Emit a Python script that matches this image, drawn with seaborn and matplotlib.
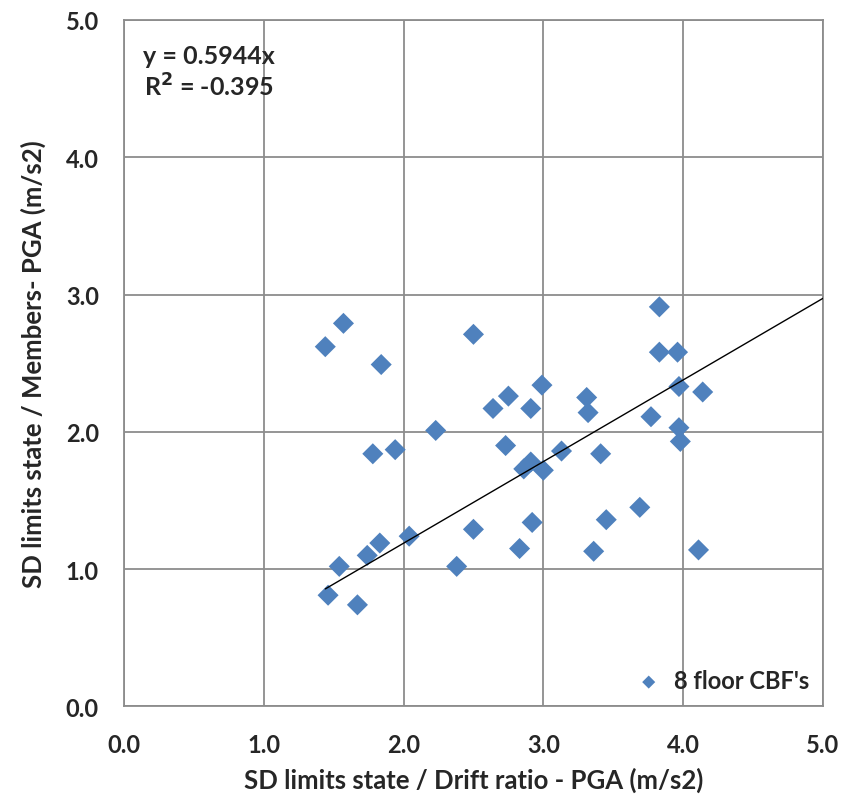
import matplotlib

matplotlib.use("Agg")
import matplotlib.pyplot as plt
import numpy as np
import pandas as pd
import seaborn as sns

# drift ratio based PGA (x) vs members based PGA (y), 8 floor CBF's
DRIFT_PGA = [
    1.44, 1.57, 1.84, 1.78, 1.94, 2.04, 1.83, 1.74, 1.54, 1.46, 1.67,
    2.50, 2.75, 2.64, 2.99, 2.91, 3.31, 3.32, 2.23, 2.73, 2.86, 2.91,
    3.00, 3.13, 3.41, 2.50, 2.92, 3.45, 2.83, 3.36, 2.38,
    3.83, 3.83, 3.96, 3.97, 4.14, 3.77, 3.97, 3.98, 3.69, 4.11,
]
MEMBERS_PGA = [
    2.62, 2.79, 2.49, 1.84, 1.87, 1.24, 1.19, 1.10, 1.02, 0.81, 0.74,
    2.71, 2.26, 2.17, 2.34, 2.17, 2.25, 2.14, 2.01, 1.90, 1.73, 1.78,
    1.72, 1.86, 1.84, 1.29, 1.34, 1.36, 1.15, 1.13, 1.02,
    2.91, 2.58, 2.58, 2.33, 2.29, 2.11, 2.03, 1.93, 1.45, 1.14,
]
SLOPE = 0.5944
R2 = -0.395
TICKS = [0.0, 1.0, 2.0, 3.0, 4.0, 5.0]

DATA = pd.DataFrame({"x": DRIFT_PGA, "y": MEMBERS_PGA})

sns.set_theme(style="white")
plt.rcParams["font.family"] = ["Lato", "DejaVu Sans"]
plt.rcParams["font.weight"] = "bold"

BLUE = "#4F81BD"
GRID = "#8c8c8c"

fig = plt.figure(figsize=(8.51, 8.03), dpi=100)
ax = fig.add_axes([0.1457, 0.119, 0.8213, 0.855])

sns.scatterplot(
    data=DATA, x="x", y="y", marker="D", s=115, color=BLUE,
    edgecolor="none", ax=ax, label="8 floor CBF's", zorder=3,
)

# linear trend through the origin, forward to the axis end
trend_x = np.array([min(DRIFT_PGA), 5.0])
sns.lineplot(x=trend_x, y=SLOPE * trend_x, color="black", linewidth=1.0,
             ax=ax, legend=False, zorder=4)

ax.set_xlim(0, 5)
ax.set_ylim(0, 5)
ax.set_xticks(TICKS)
ax.set_yticks(TICKS)
ax.set_xticklabels([f"{t:.1f}" for t in TICKS])
ax.set_yticklabels([f"{t:.1f}" for t in TICKS])
ax.grid(True, color=GRID, linewidth=1.3)
ax.set_axisbelow(True)
for sp in ax.spines.values():
    sp.set_color(GRID)
    sp.set_linewidth(1.3)
ax.tick_params(axis="both", which="both", direction="out", length=6,
               color=GRID, width=1.3, labelsize=17, pad=12)
ax.tick_params(axis="x", pad=13)
for lbl in ax.get_xticklabels() + ax.get_yticklabels():
    lbl.set_fontweight("bold")

ax.set_xlabel("SD limits state / Drift ratio - PGA (m/s2)", fontsize=18.5,
              fontweight="bold", labelpad=8)
ax.set_ylabel("SD limits state / Members- PGA (m/s2)", fontsize=18.5,
              fontweight="bold", labelpad=14)

ax.text(0.1216, 0.924, f"y = {SLOPE:.4f}x\nR$^2$ = {R2:.3f}", transform=ax.transAxes,
        ha="center", va="center", fontsize=18, fontweight="bold",
        linespacing=1.25)

leg = ax.legend(loc="lower right", frameon=False, fontsize=17,
                handletextpad=0.05, markerscale=0.62, borderaxespad=0.2)
for t in leg.get_texts():
    t.set_fontweight("bold")

fig.savefig("out.png", dpi=100)
